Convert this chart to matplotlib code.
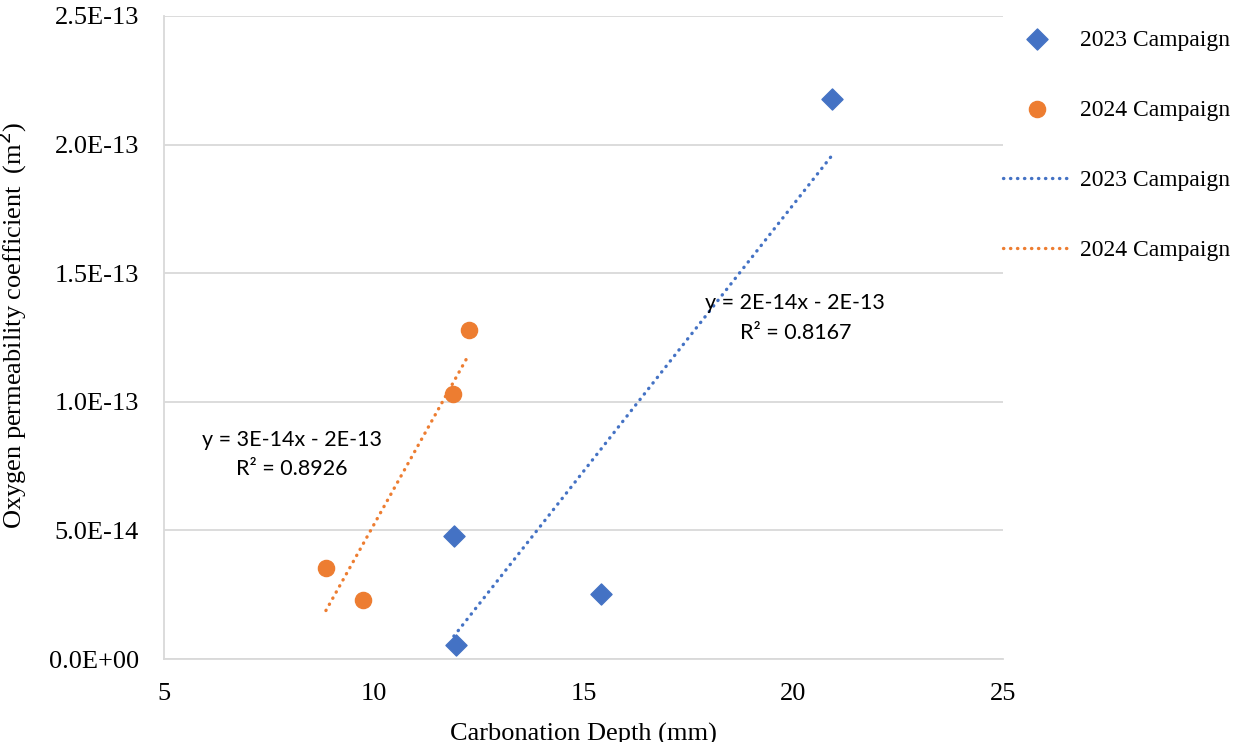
import numpy as np
import matplotlib
matplotlib.use("Agg")
import matplotlib.pyplot as plt
from matplotlib.ticker import FormatStrFormatter, MultipleLocator

# carbonation depth (mm) vs oxygen permeability (m2), two site campaigns
depth_2023 = [20.92, 11.91, 15.42, 11.96]
perm_2023 = [2.177e-13, 0.478e-13, 0.253e-13, 0.054e-13]
depth_2024 = [8.86, 9.74, 11.89, 12.27]
perm_2024 = [0.354e-13, 0.229e-13, 1.030e-13, 1.279e-13]

series_labels = ["2023 Campaign", "2024 Campaign"]
trend_text = ["y = 2E-14x - 2E-13\nR² = 0.8167", "y = 3E-14x - 2E-13\nR² = 0.8926"]

blue = "#4472C4"
orange = "#ED7D31"
grid_col = "#D9D9D9"

plt.rcParams["font.family"] = ["Liberation Serif", "DejaVu Serif"]

fig = plt.figure(figsize=(12.34, 7.42), dpi=100)
ax = fig.add_axes([164 / 1234, 1 - 659 / 742, (1003 - 164) / 1234, (659 - 16) / 742])

ax.scatter(depth_2023, perm_2023, marker="D", s=115, color=blue, zorder=3, label=series_labels[0])
ax.scatter(depth_2024, perm_2024, marker="o", s=135, color=orange, zorder=3, label=series_labels[1])

# least-squares trend lines over each data range
for xs, ys, col, lab in [(depth_2023, perm_2023, blue, series_labels[0]),
                         (depth_2024, perm_2024, orange, series_labels[1])]:
    k, b = np.polyfit(xs, ys, 1)
    xx = np.array([min(xs), max(xs)])
    ax.plot(xx, k * xx + b, color=col, lw=2.4, linestyle=(0, (0.1, 2.0)),
            dash_capstyle="round", zorder=2, label=lab)

ax.text(20.05, 1.325e-13, trend_text[0], ha="center", va="center", fontsize=15.5,
        family=["Lato", "DejaVu Sans"], linespacing=1.6)
ax.text(8.04, 0.795e-13, trend_text[1], ha="center", va="center", fontsize=15.5,
        family=["Lato", "DejaVu Sans"], linespacing=1.6)

ax.set_xlim(5, 25)
ax.set_ylim(0, 2.5e-13)
ax.xaxis.set_major_locator(MultipleLocator(5))
ax.yaxis.set_major_locator(MultipleLocator(0.5e-13))
ax.yaxis.set_major_formatter(FormatStrFormatter("%.1E"))
ax.tick_params(axis="both", length=0, labelsize=19)
ax.tick_params(axis="y", pad=18)
ax.tick_params(axis="x", pad=17)

ax.grid(axis="y", color=grid_col, lw=1.3)
ax.set_axisbelow(True)
for side in ["top", "right"]:
    ax.spines[side].set_visible(False)
for side in ["left", "bottom"]:
    ax.spines[side].set_color(grid_col)
    ax.spines[side].set_linewidth(1.3)

ax.set_xlabel("Carbonation Depth (mm)", fontsize=19)
ax.xaxis.set_label_coords(0.5, (659 - 723) / 643)
ax.set_ylabel("Oxygen permeability coefficient  (m$^2$)", fontsize=19)
ax.yaxis.set_label_coords((29 - 164) / 839, (659 - 325) / 643)

fig.legend(loc="upper left", bbox_to_anchor=(1003 / 1234, 713 / 742), frameon=False,
           fontsize=17, handlelength=2.9, handletextpad=0.38, labelspacing=2.06,
           borderpad=0, borderaxespad=0)

fig.savefig("out.png", dpi=100)
